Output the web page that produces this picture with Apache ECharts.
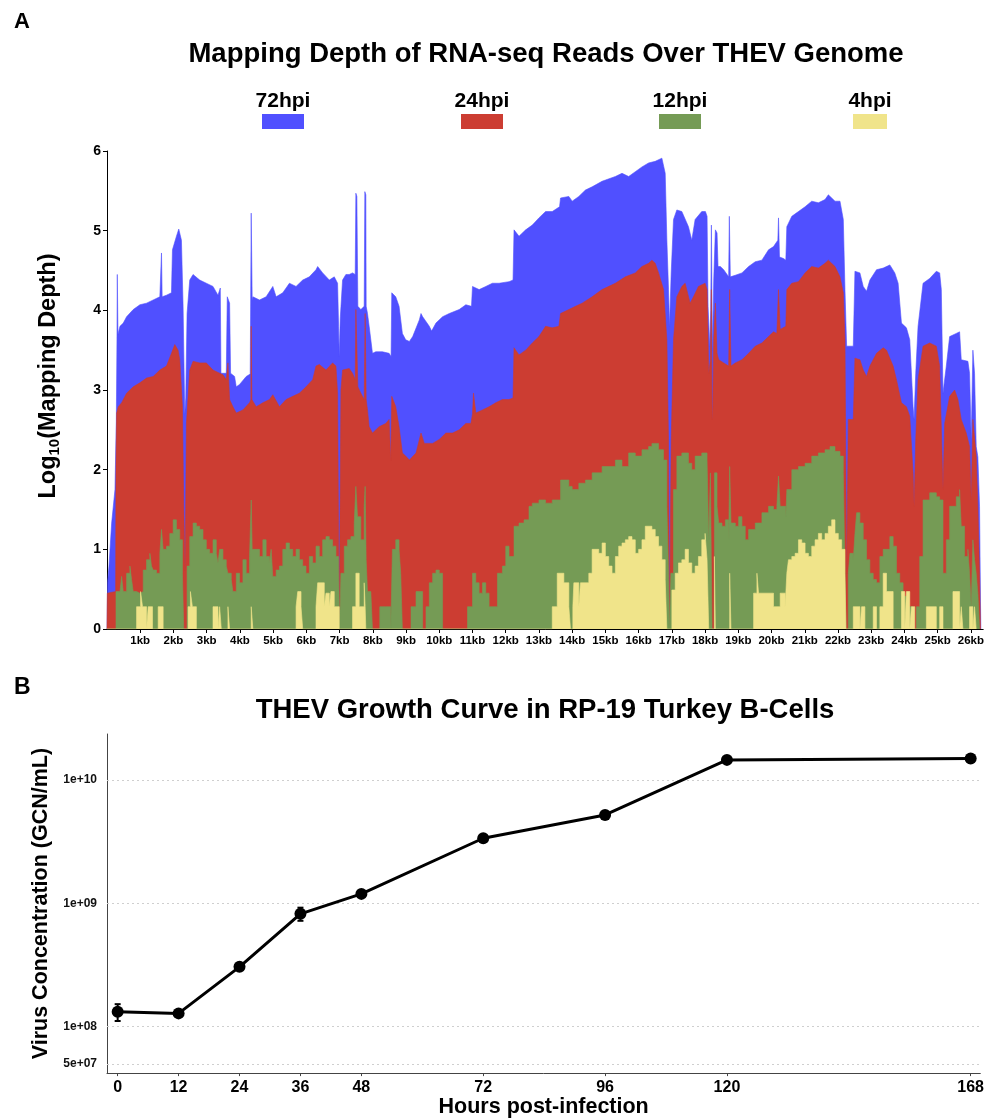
<!DOCTYPE html>
<html>
<head>
<meta charset="utf-8">
<script src="https://cdn.jsdelivr.net/npm/echarts@6/dist/echarts.min.js"></script>
<style>
  html, body { margin: 0; padding: 0; background: #fff; }
  #chart { width: 987px; height: 1119px; }
</style>
</head>
<body>
<div id="chart"></div>
<script>
const FONT = '"Liberation Sans", Arial, Helvetica, sans-serif';

// ---- Panel A: log10 read depth along the THEV genome, breakpoints as [kb, depth] ----
const depth72 = [[0.00,0.00],[0.02,0.60],[0.06,0.79],[0.14,1.33],[0.24,1.75],[0.28,2.60],[0.30,3.63],[0.31,4.45],[0.33,3.70],[0.39,3.80],[0.49,3.84],[0.59,3.92],[0.79,4.01],[0.99,4.07],[1.19,4.09],[1.39,4.13],[1.59,4.17],[1.62,4.17],[1.64,4.72],[1.66,4.17],[1.79,4.19],[1.94,4.22],[1.97,4.76],[2.09,4.93],[2.16,5.02],[2.24,4.88],[2.29,4.05],[2.34,2.70],[2.37,2.90],[2.41,3.96],[2.49,4.38],[2.59,4.45],[2.79,4.38],[2.99,4.34],[3.19,4.30],[3.34,4.19],[3.41,4.28],[3.43,3.21],[3.59,3.21],[3.62,4.17],[3.69,4.09],[3.72,3.21],[3.84,3.17],[3.89,3.04],[3.99,3.07],[4.19,3.17],[4.31,3.20],[4.34,5.22],[4.37,4.13],[4.39,4.17],[4.59,4.13],[4.79,4.17],[4.99,4.30],[5.09,4.17],[5.29,4.22],[5.49,4.34],[5.69,4.30],[5.89,4.38],[6.09,4.42],[6.29,4.51],[6.34,4.55],[6.49,4.47],[6.69,4.38],[6.84,4.42],[6.94,4.34],[6.97,3.80],[6.99,3.42],[7.02,3.90],[7.09,4.38],[7.19,4.45],[7.29,4.45],[7.39,4.47],[7.47,4.45],[7.49,5.47],[7.52,5.43],[7.55,4.05],[7.64,4.01],[7.74,4.05],[7.76,5.49],[7.79,5.45],[7.80,4.05],[7.84,3.96],[7.89,3.80],[7.94,3.63],[7.99,3.46],[8.09,3.48],[8.29,3.48],[8.49,3.46],[8.55,3.42],[8.57,4.22],[8.69,4.17],[8.79,4.05],[8.89,3.71],[8.99,3.63],[9.10,3.61],[9.20,3.67],[9.40,3.88],[9.45,3.96],[9.50,3.92],[9.70,3.80],[9.77,3.74],[9.90,3.84],[10.10,3.92],[10.30,3.96],[10.60,4.01],[10.80,4.07],[10.97,4.05],[11.00,4.30],[11.20,4.26],[11.40,4.30],[11.60,4.34],[11.80,4.34],[12.10,4.36],[12.22,4.38],[12.25,5.01],[12.40,4.93],[12.60,5.01],[12.80,5.07],[13.00,5.16],[13.20,5.24],[13.40,5.24],[13.62,5.30],[13.65,5.41],[13.90,5.43],[14.00,5.37],[14.20,5.43],[14.40,5.51],[14.60,5.55],[14.90,5.62],[15.30,5.68],[15.50,5.72],[15.70,5.68],[15.90,5.74],[16.10,5.80],[16.30,5.85],[16.50,5.87],[16.70,5.91],[16.75,5.89],[16.80,5.72],[16.85,4.88],[16.90,4.26],[16.93,3.80],[16.98,4.47],[17.05,5.14],[17.15,5.26],[17.30,5.24],[17.50,5.05],[17.60,4.88],[17.70,5.14],[17.90,5.24],[18.01,5.24],[18.06,5.18],[18.09,4.05],[18.14,3.55],[18.17,4.00],[18.19,5.07],[18.21,4.00],[18.22,3.50],[18.26,4.38],[18.31,5.01],[18.36,4.97],[18.39,4.55],[18.46,4.55],[18.56,4.51],[18.71,4.42],[18.73,5.18],[18.76,4.42],[18.91,4.44],[19.11,4.47],[19.31,4.55],[19.51,4.61],[19.71,4.63],[19.91,4.76],[20.06,4.80],[20.19,4.88],[20.21,5.16],[20.24,4.67],[20.36,4.65],[20.43,4.63],[20.46,5.05],[20.61,5.18],[20.81,5.24],[21.01,5.30],[21.21,5.37],[21.41,5.35],[21.61,5.39],[21.71,5.45],[21.91,5.37],[22.06,5.37],[22.16,5.14],[22.21,4.26],[22.26,3.55],[22.46,3.55],[22.51,4.49],[22.66,4.47],[22.76,4.30],[22.86,4.24],[22.96,4.38],[23.16,4.51],[23.36,4.53],[23.56,4.57],[23.71,4.47],[23.81,4.34],[23.91,3.84],[24.06,3.78],[24.16,3.63],[24.26,2.79],[24.29,2.63],[24.34,3.21],[24.41,3.80],[24.56,4.34],[24.76,4.40],[24.96,4.49],[25.06,4.47],[25.11,4.26],[25.16,2.96],[25.26,3.30],[25.36,3.67],[25.56,3.71],[25.66,3.73],[25.71,3.38],[25.91,3.36],[25.96,3.21],[26.01,2.38],[26.06,3.50],[26.11,3.21],[26.16,2.29],[26.21,2.16],[26.26,1.54],[26.29,0.30],[26.30,0.00]];

const depth24 = [[0.00,0.00],[0.01,0.45],[0.06,0.47],[0.26,0.47],[0.27,2.00],[0.29,2.71],[0.34,2.79],[0.44,2.84],[0.59,2.96],[0.79,3.04],[0.99,3.09],[1.19,3.15],[1.39,3.17],[1.59,3.25],[1.79,3.30],[1.94,3.46],[2.04,3.57],[2.14,3.50],[2.19,3.38],[2.27,2.79],[2.31,1.54],[2.35,0.74],[2.39,2.58],[2.49,3.25],[2.59,3.36],[2.79,3.34],[2.99,3.34],[3.19,3.25],[3.39,3.21],[3.49,3.19],[3.59,3.13],[3.64,3.34],[3.69,2.88],[3.79,2.79],[3.89,2.71],[4.09,2.75],[4.29,2.84],[4.33,2.88],[4.34,3.80],[4.36,2.88],[4.49,2.79],[4.69,2.84],[4.89,2.88],[4.99,2.94],[5.19,2.79],[5.39,2.88],[5.59,2.92],[5.79,2.96],[5.99,3.04],[6.19,3.13],[6.29,3.30],[6.39,3.32],[6.59,3.25],[6.79,3.34],[6.89,3.30],[6.94,2.96],[6.99,0.12],[7.04,3.00],[7.09,3.25],[7.29,3.27],[7.39,3.21],[7.47,3.13],[7.49,4.01],[7.52,4.01],[7.55,3.04],[7.64,2.96],[7.74,2.88],[7.77,3.96],[7.80,2.88],[7.84,2.75],[7.89,2.54],[7.99,2.46],[8.19,2.54],[8.39,2.58],[8.49,2.63],[8.54,2.12],[8.57,2.92],[8.69,2.79],[8.79,2.54],[8.89,2.21],[8.99,2.17],[9.10,2.12],[9.30,2.21],[9.45,2.46],[9.55,2.33],[9.80,2.33],[10.00,2.38],[10.20,2.46],[10.40,2.46],[10.60,2.50],[10.80,2.58],[10.95,2.58],[11.00,2.70],[11.03,2.96],[11.10,2.71],[11.30,2.75],[11.50,2.79],[11.70,2.84],[11.90,2.88],[12.10,2.88],[12.22,2.90],[12.25,3.53],[12.40,3.44],[12.60,3.50],[12.80,3.59],[13.00,3.67],[13.20,3.80],[13.40,3.78],[13.60,3.80],[13.65,3.96],[13.90,4.01],[14.10,4.05],[14.30,4.09],[14.60,4.17],[14.90,4.26],[15.30,4.34],[15.60,4.42],[15.90,4.47],[16.10,4.55],[16.30,4.59],[16.40,4.63],[16.50,4.59],[16.60,4.47],[16.75,4.26],[16.85,3.63],[16.90,2.38],[16.93,0.03],[16.98,2.38],[17.05,3.63],[17.15,4.17],[17.30,4.30],[17.40,4.34],[17.55,4.09],[17.65,4.17],[17.80,4.30],[18.00,4.34],[18.06,4.26],[18.11,3.21],[18.16,3.38],[18.19,4.26],[18.21,2.63],[18.23,2.79],[18.26,3.63],[18.31,4.09],[18.36,3.46],[18.41,3.38],[18.56,3.34],[18.71,3.30],[18.74,4.26],[18.78,3.30],[18.91,3.34],[19.11,3.38],[19.31,3.46],[19.51,3.55],[19.71,3.59],[19.91,3.67],[20.06,3.73],[20.16,3.71],[20.21,4.26],[20.26,3.76],[20.43,3.80],[20.46,4.26],[20.61,4.34],[20.81,4.36],[21.01,4.47],[21.21,4.55],[21.41,4.53],[21.61,4.59],[21.71,4.63],[21.91,4.55],[22.06,4.42],[22.16,4.22],[22.21,3.63],[22.26,0.70],[22.31,2.63],[22.46,2.63],[22.51,3.40],[22.66,3.38],[22.76,3.25],[22.86,3.17],[22.96,3.30],[23.16,3.46],[23.36,3.53],[23.46,3.50],[23.66,3.30],[23.76,3.13],[23.91,2.84],[24.06,2.79],[24.16,2.67],[24.26,1.96],[24.29,1.54],[24.34,2.38],[24.41,3.13],[24.56,3.55],[24.76,3.59],[24.96,3.55],[25.06,3.30],[25.16,1.75],[25.21,2.58],[25.36,2.92],[25.51,3.00],[25.61,2.88],[25.71,2.63],[25.86,2.46],[25.96,2.29],[26.01,1.62],[26.06,2.63],[26.16,2.17],[26.21,1.54],[26.26,0.70],[26.29,0.00]];

// 12hpi and 4hpi coverage is blocky: each breakpoint holds until the next one
const depth12 = [[0.00,0.00],[0.27,0.47],[0.39,0.45],[0.44,0.66],[0.49,0.47],[0.59,0.70],[0.69,0.79],[0.74,0.62],[0.79,0.47],[0.89,0.45],[0.99,0.47],[1.09,0.74],[1.19,0.87],[1.29,0.95],[1.34,0.79],[1.39,0.74],[1.49,0.70],[1.59,0.95],[1.64,1.25],[1.69,1.00],[1.79,1.04],[1.89,1.20],[1.99,1.37],[2.09,1.25],[2.19,1.12],[2.27,0.70],[2.31,0.00],[2.41,0.79],[2.49,1.16],[2.59,1.33],[2.69,1.29],[2.79,1.25],[2.89,1.12],[2.99,1.00],[3.09,0.95],[3.19,1.12],[3.29,0.95],[3.34,0.83],[3.39,1.00],[3.49,0.87],[3.59,0.79],[3.64,0.70],[3.74,0.62],[3.79,0.47],[3.89,0.70],[3.99,0.58],[4.09,0.87],[4.19,0.70],[4.29,0.91],[4.34,1.62],[4.37,1.00],[4.49,1.00],[4.59,0.91],[4.69,1.12],[4.79,0.91],[4.89,0.83],[4.94,1.00],[4.99,0.66],[5.09,0.74],[5.19,0.79],[5.29,1.00],[5.39,1.08],[5.49,1.00],[5.59,0.91],[5.69,1.00],[5.79,0.87],[5.89,0.79],[5.99,0.70],[6.09,0.91],[6.19,0.83],[6.29,1.04],[6.39,0.91],[6.49,1.12],[6.59,1.16],[6.69,1.12],[6.79,1.04],[6.89,0.91],[6.97,0.79],[7.00,0.00],[7.04,0.70],[7.14,1.04],[7.24,1.12],[7.34,1.16],[7.44,1.33],[7.49,1.79],[7.54,1.41],[7.64,1.12],[7.74,1.54],[7.77,1.79],[7.80,0.87],[7.84,0.47],[7.94,0.45],[7.99,0.00],[8.21,0.28],[8.39,0.28],[8.54,0.00],[8.59,1.00],[8.69,1.12],[8.79,1.00],[8.84,0.70],[8.89,0.00],[9.15,0.28],[9.30,0.47],[9.50,0.00],[9.60,0.28],[9.70,0.58],[9.80,0.70],[9.90,0.74],[10.00,0.70],[10.10,0.00],[10.85,0.28],[11.00,0.70],[11.10,0.58],[11.20,0.45],[11.30,0.58],[11.40,0.45],[11.50,0.28],[11.75,0.70],[11.90,0.79],[12.00,1.04],[12.10,0.91],[12.25,1.29],[12.40,1.33],[12.55,1.37],[12.70,1.54],[12.80,1.58],[13.00,1.62],[13.20,1.58],[13.40,1.62],[13.65,1.87],[13.90,1.79],[14.00,1.75],[14.20,1.83],[14.40,1.87],[14.60,1.96],[14.90,2.04],[15.30,2.12],[15.50,2.04],[15.70,2.21],[15.90,2.17],[16.10,2.25],[16.30,2.29],[16.40,2.33],[16.60,2.25],[16.75,2.12],[16.85,1.54],[16.90,0.70],[16.93,0.00],[16.97,0.70],[17.05,1.75],[17.15,2.17],[17.30,2.21],[17.50,2.08],[17.60,2.00],[17.70,2.17],[17.90,2.21],[18.06,2.12],[18.11,1.12],[18.16,1.96],[18.21,0.00],[18.28,1.96],[18.36,1.54],[18.41,1.33],[18.51,1.29],[18.61,1.37],[18.71,1.12],[18.74,2.04],[18.78,1.33],[18.91,1.29],[19.01,1.41],[19.11,1.29],[19.21,1.12],[19.31,1.25],[19.51,1.33],[19.71,1.46],[19.91,1.54],[20.06,1.50],[20.16,1.54],[20.21,1.92],[20.26,1.54],[20.43,1.41],[20.46,1.75],[20.61,2.00],[20.81,2.04],[21.01,2.08],[21.21,2.17],[21.41,2.21],[21.61,2.25],[21.76,2.29],[21.91,2.23],[22.06,2.17],[22.16,1.96],[22.21,0.70],[22.24,0.00],[22.31,0.70],[22.36,0.95],[22.46,0.87],[22.51,1.20],[22.56,1.46],[22.66,1.33],[22.76,1.12],[22.86,0.87],[22.96,0.70],[23.06,0.62],[23.16,0.58],[23.26,0.91],[23.36,1.00],[23.56,1.16],[23.66,1.04],[23.76,0.70],[23.86,0.58],[23.96,0.41],[24.06,0.28],[24.26,0.00],[24.36,0.28],[24.46,0.91],[24.56,1.62],[24.76,1.71],[24.96,1.66],[25.06,1.62],[25.16,0.70],[25.26,1.12],[25.36,1.54],[25.56,1.66],[25.66,1.75],[25.71,1.29],[25.81,0.91],[25.91,1.00],[25.96,0.70],[26.01,0.28],[26.06,1.12],[26.11,0.87],[26.16,0.70],[26.21,0.45],[26.26,0.00]];

const depth4 = [[0.00,0.00],[0.89,0.28],[1.01,0.47],[1.07,0.28],[1.19,0.00],[1.24,0.28],[1.37,0.00],[1.54,0.28],[1.69,0.00],[2.44,0.28],[2.51,0.47],[2.57,0.28],[2.69,0.00],[3.19,0.28],[3.34,0.00],[3.39,0.28],[3.44,0.00],[3.64,0.28],[3.69,0.00],[4.34,0.28],[4.39,0.00],[5.69,0.28],[5.74,0.47],[5.84,0.28],[5.89,0.00],[6.29,0.28],[6.34,0.58],[6.54,0.28],[6.59,0.45],[6.69,0.28],[6.74,0.47],[6.84,0.28],[6.99,0.00],[7.39,0.28],[7.49,0.70],[7.59,0.28],[7.74,0.58],[7.77,0.28],[7.79,0.00],[13.40,0.28],[13.55,0.70],[13.75,0.58],[13.90,0.28],[13.95,0.00],[14.02,0.28],[14.05,0.58],[14.20,0.28],[14.25,0.58],[14.50,0.70],[14.60,1.00],[14.80,0.95],[14.90,1.08],[15.00,0.91],[15.10,0.79],[15.20,0.70],[15.30,0.91],[15.40,1.04],[15.50,1.08],[15.60,1.12],[15.70,1.16],[15.80,1.12],[15.90,0.95],[16.00,1.00],[16.10,1.12],[16.20,1.29],[16.40,1.25],[16.50,1.16],[16.60,1.04],[16.70,0.87],[16.80,0.62],[16.85,0.00],[17.00,0.49],[17.10,0.70],[17.20,0.83],[17.30,0.87],[17.40,1.00],[17.50,0.83],[17.60,0.70],[17.70,0.79],[17.80,0.91],[17.90,1.12],[18.00,1.20],[18.06,0.87],[18.11,0.00],[18.28,0.91],[18.31,0.00],[18.74,0.70],[18.78,0.00],[19.46,0.45],[19.56,0.70],[19.61,0.45],[20.06,0.28],[20.26,0.45],[20.41,0.28],[20.46,0.70],[20.51,0.87],[20.61,0.91],[20.71,0.95],[20.81,1.12],[20.91,1.08],[21.01,0.95],[21.11,0.91],[21.21,1.04],[21.31,1.12],[21.41,1.20],[21.51,1.12],[21.61,1.20],[21.71,1.29],[21.81,1.37],[21.91,1.20],[22.01,1.12],[22.11,1.00],[22.21,0.70],[22.24,0.00],[22.46,0.28],[22.66,0.00],[22.71,0.28],[22.81,0.00],[23.06,0.28],[23.16,0.00],[23.26,0.28],[23.36,0.70],[23.46,0.47],[23.66,0.00],[23.91,0.47],[24.01,0.00],[24.06,0.47],[24.16,0.00],[24.21,0.28],[24.31,0.00],[24.66,0.28],[24.96,0.00],[25.06,0.28],[25.16,0.00],[25.46,0.47],[25.66,0.00],[25.71,0.28],[25.76,0.00],[25.96,0.28],[26.06,0.00],[26.11,0.28],[26.16,0.00]];

const seriesNames = ['72hpi', '24hpi', '12hpi', '4hpi'];
const seriesColors = ['#5050FF', '#CC3D32', '#759B55', '#F0E48A'];
const kbTicks = [1,2,3,4,5,6,7,8,9,10,11,12,13,14,15,16,17,18,19,20,21,22,23,24,25,26];

// ---- Panel B: growth curve (genome copies per mL) ----
const hours = [0, 12, 24, 36, 48, 72, 96, 120, 168];
const gcn = [1.32e8, 1.28e8, 3.05e8, 8.2e8, 1.19e9, 3.36e9, 5.19e9, 1.45e10, 1.49e10];
const gcnLow = [1.11e8, 1.24e8, 2.95e8, 7.2e8, 1.15e9, 3.28e9, 5.05e9, 1.41e10, 1.46e10];
const gcnHigh = [1.52e8, 1.32e8, 3.15e8, 9.2e8, 1.23e9, 3.44e9, 5.33e9, 1.49e10, 1.52e10];
const gcnTicks = [5e7, 1e8, 1e9, 1e10];

function sciLabel(v) {
  const e = Math.floor(Math.log10(v) + 1e-9);
  const m = Math.round(v / Math.pow(10, e));
  return m + 'e+' + String(e).padStart(2, '0');
}

const bold = (size, extra) => Object.assign({ fontFamily: FONT, fontWeight: 'bold', fontSize: size, color: '#000' }, extra || {});

// legend drawn as label-over-swatch pairs
const legendCx = [283, 482, 680, 870];
const legendW = [42, 42, 42, 34];
const legendGraphics = [];
seriesNames.forEach((name, i) => {
  legendGraphics.push({
    type: 'text', x: legendCx[i], y: 101,
    style: { text: name, font: 'bold 21px ' + FONT, fill: '#000', textAlign: 'center', textVerticalAlign: 'middle' }
  });
  legendGraphics.push({
    type: 'rect', shape: { x: legendCx[i] - legendW[i] / 2, y: 114, width: legendW[i], height: 15 },
    style: { fill: seriesColors[i] }
  });
});

const depthSeries = [depth72, depth24, depth12, depth4].map((d, i) => ({
  name: seriesNames[i],
  type: 'line',
  xAxisIndex: 0, yAxisIndex: 0,
  data: d,
  step: i >= 2 ? 'end' : false,
  symbol: 'none',
  sampling: null,
  lineStyle: { width: 0.6, color: seriesColors[i] },
  areaStyle: { color: seriesColors[i], opacity: 1 },
  itemStyle: { color: seriesColors[i] },
  z: 2 + i
}));

const option = {
  animation: false,
  backgroundColor: '#fff',
  title: [
    { text: 'Mapping Depth of RNA-seq Reads Over THEV Genome', left: 541, top: 35, textAlign: 'center',
      textStyle: bold(27.5) },
    { text: 'THEV Growth Curve in RP-19 Turkey B-Cells', left: 540, top: 691, textAlign: 'center',
      textStyle: bold(27.5) }
  ],
  graphic: [
    { type: 'text', x: 14, y: 11, style: { text: 'A', font: 'bold 22px ' + FONT, fill: '#000' } },
    { type: 'text', x: 14, y: 676, style: { text: 'B', font: 'bold 23px ' + FONT, fill: '#000' } }
  ].concat(legendGraphics),
  grid: [
    { left: 107, top: 151, width: 878, height: 478 },
    { left: 107, top: 734, width: 875, height: 341 }
  ],
  xAxis: [
    {
      gridIndex: 0, type: 'value', min: 0, max: 26.37,
      axisLine: { show: true, onZero: false, lineStyle: { color: '#000', width: 1 } },
      axisTick: { show: true, length: 4, customValues: kbTicks, lineStyle: { color: '#000' } },
      axisLabel: Object.assign(bold(11.5), { margin: 6, customValues: kbTicks, formatter: v => v + 'kb' }),
      splitLine: { show: false }
    },
    {
      gridIndex: 1, type: 'value', min: -2.1, max: 169.9,
      axisLine: { show: true, onZero: false, lineStyle: { color: '#444', width: 1 } },
      axisTick: { show: true, length: 3, customValues: hours, lineStyle: { color: '#444' } },
      axisLabel: Object.assign(bold(16), { margin: 6, customValues: hours }),
      splitLine: { show: false },
      name: 'Hours post-infection', nameLocation: 'middle', nameGap: 21,
      nameTextStyle: bold(21.5)
    }
  ],
  yAxis: [
    {
      gridIndex: 0, type: 'value', min: 0, max: 6, interval: 1,
      axisLine: { show: true, onZero: false, lineStyle: { color: '#000', width: 1 } },
      axisTick: { show: true, length: 4, lineStyle: { color: '#000' } },
      axisLabel: Object.assign(bold(14), { margin: 6 }),
      splitLine: { show: false },
      name: '{a|Log}{s|10}{a|(Mapping Depth)}', nameLocation: 'middle', nameGap: 45, nameRotate: 90,
      nameTextStyle: {
        padding: [0, 0, 0, 28],
        rich: {
          a: bold(23.5, { lineHeight: 27 }),
          s: bold(15, { verticalAlign: 'bottom', lineHeight: 27 })
        }
      }
    },
    {
      gridIndex: 1, type: 'log', logBase: 10, min: 4.2e7, max: 2.35e10,
      axisLine: { show: true, onZero: false, lineStyle: { color: '#444', width: 1 } },
      axisTick: { show: false },
      axisLabel: { show: false },
      splitLine: { show: false },
      name: 'Virus Concentration (GCN/mL)', nameLocation: 'middle', nameGap: 55, nameRotate: 90,
      nameTextStyle: bold(21.5)
    }
  ],
  series: depthSeries.concat([
    {
      name: 'error',
      type: 'custom',
      xAxisIndex: 1, yAxisIndex: 1,
      data: hours.map((h, i) => [h, gcnLow[i], gcnHigh[i]]),
      encode: { x: 0, y: [1, 2] },
      z: 3,
      renderItem: (params, api) => {
        const lo = api.coord([api.value(0), api.value(1)]);
        const hi = api.coord([api.value(0), api.value(2)]);
        const st = { stroke: '#000', lineWidth: 2 };
        return {
          type: 'group',
          children: [
            { type: 'line', shape: { x1: lo[0], y1: lo[1], x2: hi[0], y2: hi[1] }, style: st },
            { type: 'line', shape: { x1: lo[0] - 3, y1: lo[1], x2: lo[0] + 3, y2: lo[1] }, style: st },
            { type: 'line', shape: { x1: hi[0] - 3, y1: hi[1], x2: hi[0] + 3, y2: hi[1] }, style: st }
          ]
        };
      },
      markLine: {
        silent: true,
        symbol: ['none', 'none'],
        z: 1,
        lineStyle: { type: [2, 3], color: '#cfcfcf', width: 1 },
        label: Object.assign(bold(12, { color: '#111' }), {
          position: 'start', distance: 10,
          formatter: p => sciLabel(p.value)
        }),
        data: gcnTicks.map(v => ({ yAxis: v }))
      }
    },
    {
      name: 'GCN',
      type: 'line',
      xAxisIndex: 1, yAxisIndex: 1,
      data: hours.map((h, i) => [h, gcn[i]]),
      symbol: 'circle', symbolSize: 12,
      lineStyle: { color: '#000', width: 3 },
      itemStyle: { color: '#000' },
      z: 5
    }
  ])
};

const chart = echarts.init(document.getElementById('chart'), null, { renderer: 'canvas' });
chart.setOption(option);
</script>
</body>
</html>
